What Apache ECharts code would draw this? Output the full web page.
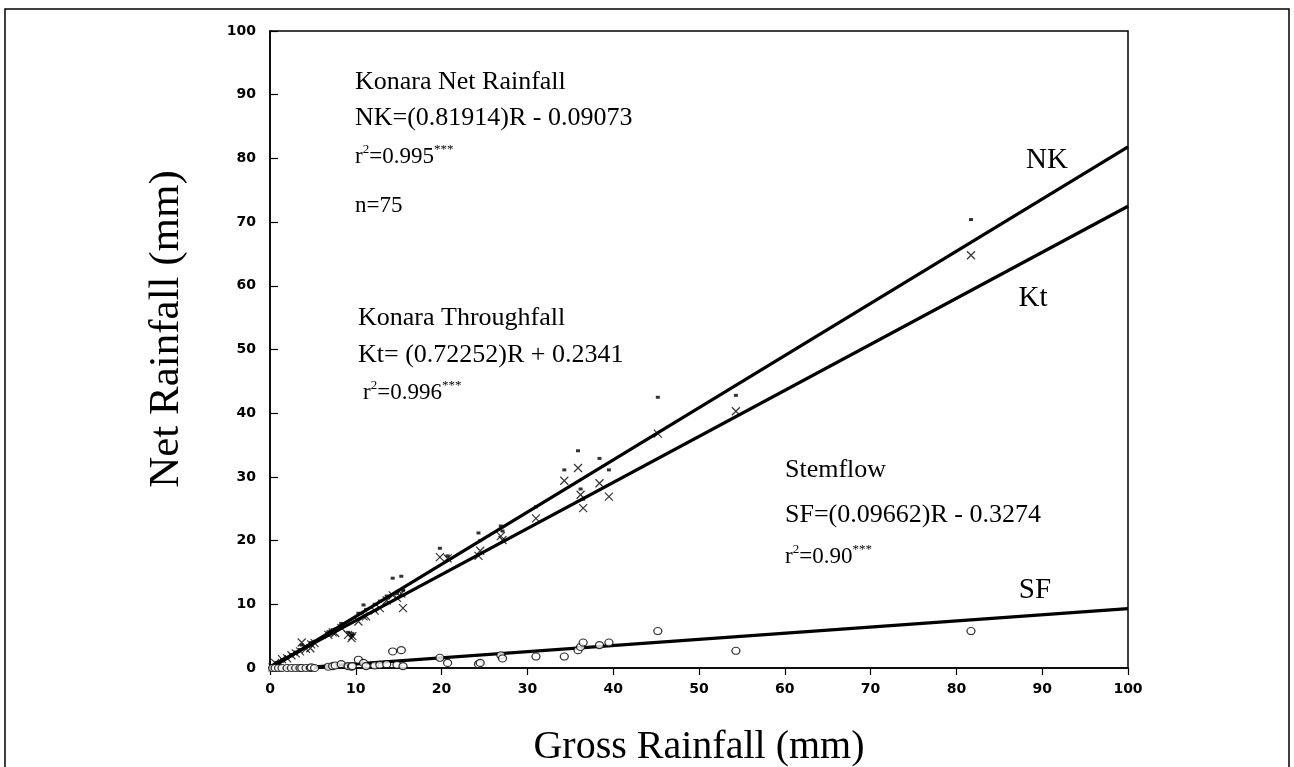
<!DOCTYPE html>
<html>
<head>
<meta charset="utf-8">
<script src="https://cdn.jsdelivr.net/npm/echarts@6/dist/echarts.min.js"></script>
<style>
html,body{margin:0;padding:0;background:#fff;}
#chart{width:1294px;height:767px;}
</style>
</head>
<body>
<div id="chart"></div>
<script>
// Gross rainfall (mm) per event
const gross = [0.3,0.6,1.0,1.4,2.0,2.5,3.0,3.5,3.7,4.2,4.7,4.8,5.2,6.8,7.3,7.6,8.3,9.1,9.5,9.6,10.3,10.9,11.2,12.2,12.8,13.6,14.3,14.8,15.3,15.5,19.8,20.7,24.3,24.5,26.9,27.1,31.0,34.3,35.9,36.2,36.5,38.4,39.5,45.2,54.3,81.7];
// Konara net rainfall (NK)
const netNK = [0.2,0.6,0.8,1.3,1.6,2.1,2.5,2.9,3.6,3.3,3.8,4.0,4.2,5.7,6.0,6.1,7.0,5.6,5.1,5.4,8.6,9.9,9.2,10.0,10.5,11.3,14.1,11.7,14.4,12.2,18.8,17.6,21.2,20.0,22.3,21.5,25.3,31.1,34.1,28.1,26.5,32.9,31.1,42.5,42.8,70.4];
// Konara throughfall (Kt)
const thruKt = [0.1,0.8,0.5,1.4,1.5,2.0,2.3,2.6,4.0,3.0,3.1,3.7,3.9,5.2,5.6,5.5,6.3,5.2,4.7,5.0,7.3,8.1,8.1,9.0,9.4,10.6,11.4,11.0,11.7,9.4,17.4,17.2,17.6,18.4,20.7,20.1,23.5,29.4,31.4,27.2,25.1,29.0,26.9,36.8,40.3,64.8];
// Stemflow (SF)
const stemSF = [0.0,0.0,0.0,0.0,0.0,0.0,0.0,0.0,0.0,0.0,0.0,0.1,0.0,0.2,0.3,0.4,0.6,0.3,0.2,0.3,1.3,0.8,0.3,0.4,0.5,0.6,2.6,0.5,2.8,0.3,1.6,0.8,0.6,0.8,2.0,1.5,1.8,1.8,2.8,3.3,4.0,3.6,4.0,5.8,2.7,5.8];
// Regression line end points (gross 0 and 100)
const fitX = [0, 100];
const fitNK = [-0.09, 81.82];
const fitKt = [0.23, 72.49];
const fitSF = [-0.33, 9.33];
// Axis ticks
const axisMin = 0, axisMax = 100, axisStep = 10;

const pair = (xs, ys) => xs.map((x, i) => [x, ys[i]]);
const serif = 'Liberation Serif';
const tickFont = {fontFamily:'DejaVu Sans', fontWeight:'bold', fontSize:14, color:'#000'};

function txt(x, y, text, size, align) {
  return {type:'text', x:x, y:y, z:100, style:{text:text, fontFamily:serif, fontSize:size, fill:'#000', align:align||'left', verticalAlign:'middle'}};
}
function rtxt(x, y, text, size) {
  return {type:'text', x:x, y:y, z:100, style:{text:text, fontFamily:serif, fontSize:size, fill:'#000', align:'left', verticalAlign:'middle',
    rich:{b:{fontFamily:serif, fontSize:size, fill:'#000'}, s:{fontFamily:serif, fontSize:Math.round(size*0.55), fill:'#000', padding:[0,0,Math.round(size*0.6),0]}}}};
}

const chart = echarts.init(document.getElementById('chart'), null, {renderer:'canvas'});
chart.setOption({
  animation:false,
  backgroundColor:'#fff',
  grid:{left:270, right:166, top:31, bottom:99, show:true, borderColor:'#000', borderWidth:1.5},
  xAxis:{type:'value', min:axisMin, max:axisMax, interval:axisStep,
    axisLine:{lineStyle:{color:'#000', width:1.5}},
    axisTick:{inside:false, length:7, lineStyle:{color:'#000', width:1.2}},
    axisLabel:Object.assign({margin:14}, tickFont), splitLine:{show:false}},
  yAxis:{type:'value', min:axisMin, max:axisMax, interval:axisStep,
    axisLine:{show:true, lineStyle:{color:'#000', width:1.5}},
    axisTick:{show:true, inside:true, length:8, lineStyle:{color:'#000', width:1.2}},
    axisLabel:Object.assign({margin:14}, tickFont), splitLine:{show:false}},
  series:[
    {type:'line', data:pair(fitX, fitNK), symbol:'none', clip:true, lineStyle:{color:'#000', width:3.2}, z:5},
    {type:'line', data:pair(fitX, fitKt), symbol:'none', clip:true, lineStyle:{color:'#000', width:3.2}, z:5},
    {type:'line', data:pair(fitX, fitSF), symbol:'none', clip:true, lineStyle:{color:'#000', width:3.2}, z:5},
    {type:'scatter', data:pair(gross, netNK), symbol:'rect', symbolSize:[4,3], itemStyle:{color:'#000'}, z:6},
    {type:'scatter', data:pair(gross, thruKt), symbol:'path://M0,0L10,10M10,0L0,10', symbolSize:8,
      itemStyle:{color:'none', borderColor:'#000', borderWidth:1.2}, z:6},
    {type:'scatter', data:pair(gross, stemSF), symbol:'circle', symbolSize:[8,7],
      itemStyle:{color:'#fff', borderColor:'#000', borderWidth:1.2}, z:6}
  ],
  graphic:[
    {type:'rect', shape:{x:5, y:9, width:1284, height:800}, style:{fill:'none', stroke:'#000', lineWidth:1.5}, z:0, silent:true},
    txt(355, 82, 'Konara Net Rainfall', 26),
    txt(355, 118, 'NK=(0.81914)R - 0.09073', 26),
    rtxt(355, 157, '{b|r}{s|2}{b|=0.995}{s|***}', 23),
    txt(355, 206, 'n=75', 23),
    txt(358, 318, 'Konara Throughfall', 26),
    txt(358, 355, 'Kt= (0.72252)R + 0.2341', 26),
    rtxt(363, 393, '{b|r}{s|2}{b|=0.996}{s|***}', 23),
    txt(785, 470, 'Stemflow', 26),
    txt(785, 515, 'SF=(0.09662)R - 0.3274', 26),
    rtxt(785, 557, '{b|r}{s|2}{b|=0.90}{s|***}', 23),
    txt(1047, 160, 'NK', 29, 'center'),
    txt(1033, 298, 'Kt', 29, 'center'),
    txt(1035, 590, 'SF', 29, 'center'),
    txt(699, 747, 'Gross Rainfall (mm)', 40, 'center'),
    {type:'text', x:167, y:329, rotation:Math.PI/2, z:100, style:{text:'Net Rainfall (mm)', fontFamily:serif, fontSize:43, fill:'#000', align:'center', verticalAlign:'middle'}}
  ]
});
</script>
</body>
</html>
